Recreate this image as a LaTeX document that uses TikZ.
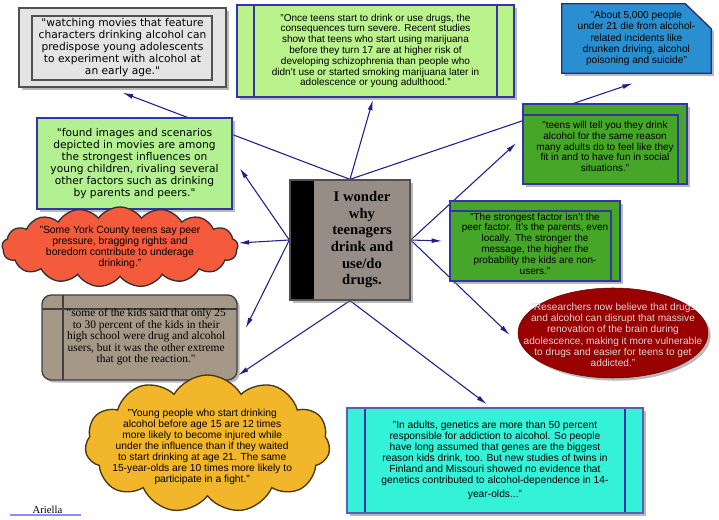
\documentclass[tikz,border=0pt]{standalone}
\usepackage{fontspec}
\setmainfont{Liberation Sans}
\newfontfamily\widesans{DejaVu Sans}
\newfontfamily\timesfont{Liberation Serif}
\usepackage{tikz}
\usetikzlibrary{arrows.meta,shapes.symbols,shapes.geometric,shadows,backgrounds}

\definecolor{navyline}{HTML}{1E1E8E}
\definecolor{palegrey}{HTML}{E4E4E4}
\definecolor{edgegrey}{HTML}{505050}
\definecolor{limegreen}{HTML}{BAF28C}
\definecolor{mintgreen}{HTML}{B2F092}
\definecolor{boxblue}{HTML}{3434A8}
\definecolor{skyblue}{HTML}{2A8FD0}
\definecolor{tomatored}{HTML}{F45A3C}
\definecolor{hubgrey}{HTML}{958D86}
\definecolor{grassgreen}{HTML}{46A628}
\definecolor{winered}{HTML}{990000}
\definecolor{taupe}{HTML}{A69886}
\definecolor{amber}{HTML}{F2B62A}
\definecolor{aqua}{HTML}{34F2D8}
\definecolor{ulblue}{HTML}{8C8CFF}

\begin{document}
\begin{tikzpicture}[x=0.75pt, y=-0.75pt,
    >={Latex[length=8pt,width=3.6pt]},
    conn/.style={->, navyline, line width=0.8pt},
    shade/.style={drop shadow={shadow xshift=2pt, shadow yshift=-2pt, fill=black!50, opacity=0.55}},
    card/.style={rectangle, draw=boxblue, line width=1pt, align=center, inner sep=0pt, shade},
    smallsans/.style={font=\fontsize{7.5}{8.1}\selectfont},
    widetext/.style={font=\widesans\fontsize{8}{9}\selectfont},
    cloudtext/.style={align=center, text=black, font=\fontsize{7.7}{8.3}\selectfont}]

    \useasboundingbox (0,0) rectangle (719,520);

    % centre box
    \node[rectangle, draw=edgegrey, line width=1pt, fill=hubgrey, shade, inner sep=0pt,
          minimum width=90pt, minimum height=90pt,
          font=\timesfont\bfseries\fontsize{11}{12.5}\selectfont,
          path picture={\fill[black] (path picture bounding box.south west) rectangle ([xshift=18pt]path picture bounding box.north west);}]
        (hub) at (350,240) {\hspace{18pt}\begin{tabular}{@{}c@{}}I wonder\\why\\teenagers\\drink and\\use/do\\drugs.\end{tabular}};

    % top row
    \node[card, draw=edgegrey, fill=palegrey, widetext, minimum width=155.25pt, minimum height=59.25pt,
          path picture={\draw[edgegrey, line width=1pt] ([shift={(9.75pt,-6pt)}]path picture bounding box.north west) rectangle ([shift={(-10.5pt,5.25pt)}]path picture bounding box.south east);}]
        (movies) at (122.5,47.5) {"watching movies that feature\\characters drinking alcohol can\\predispose young adolescents\\to experiment with alcohol at\\an early age."};
    \node[card, fill=limegreen, smallsans, minimum width=207.75pt, minimum height=69pt,
          path picture={\draw[boxblue, line width=1pt] ([xshift=12.75pt]path picture bounding box.north west) -- ([xshift=12.75pt]path picture bounding box.south west)
                                                       ([xshift=-12.75pt]path picture bounding box.north east) -- ([xshift=-12.75pt]path picture bounding box.south east);}]
        (severe) at (375.5,51) {"Once teens start to drink or use drugs, the\\consequences turn severe. Recent studies\\show that teens who start using marijuana\\before they turn 17 are at higher risk of\\developing schizophrenia than people who\\didn't use or started smoking marijuana later in\\adolescence or young adulthood."};
    \node[align=center, inner sep=0pt, font=\fontsize{7.6}{8.4}\selectfont, minimum width=111.75pt, minimum height=51.75pt]
        (deaths) at (636.5,38.5) {"About 5,000 people\\under 21 die from alcohol-\\related incidents like\\drunken driving, alcohol\\poisoning and suicide"};

    % left side
    \node[card, fill=mintgreen, widetext, minimum width=146.25pt, minimum height=68.25pt]
        (images) at (134.5,163.5) {"found images and scenarios\\depicted in movies are among\\the strongest influences on\\young children, rivaling several\\other factors such as drinking\\by parents and peers."};
    \node[cloud, cloud puffs=17, cloud puff arc=110, cloud ignores aspect, inner sep=0pt,
          minimum width=177pt, minimum height=60pt, draw=black!80, line width=1pt, fill=tomatored,
          label={[cloudtext, font=\fontsize{7.8}{8.3}\selectfont]center:{"Some York County teens say peer\\pressure, bragging rights and\\boredom contribute to underage\\drinking."}}]
        (peers) at (120,247) {};
    \node[card, draw=black!75, fill=taupe, rounded corners=7pt, minimum width=146.25pt, minimum height=63.75pt,
          font=\timesfont\fontsize{8.6}{8.6}\selectfont,
          path picture={\draw[black!75, line width=1pt] ([xshift=15.75pt]path picture bounding box.north west) -- ([xshift=15.75pt]path picture bounding box.south west)
                                                        ([yshift=-10.5pt]path picture bounding box.north west) -- ([yshift=-10.5pt]path picture bounding box.north east);}]
        (extreme) at (139.5,337.5) {\hspace{10pt}\begin{tabular}{@{}c@{}}"some of the kids said that only 25\\to 30 percent of the kids in their\\high school were drug and alcohol\\users, but it was the other extreme\\that got the reaction."\end{tabular}};
    \node[cloud, cloud puffs=11, cloud puff arc=120, cloud ignores aspect, inner sep=0pt,
          minimum width=183.75pt, minimum height=103.5pt, draw=black!70!amber, line width=1pt, fill=amber,
          label={[cloudtext, xshift=-4pt, yshift=-2pt]center:{"Young people who start drinking\\alcohol before age 15 are 12 times\\more likely to become injured while\\under the influence than if they waited\\to start drinking at age 21. The same\\15-year-olds are 10 times more likely to\\participate in a fight."}}]
        (injury) at (207.5,444) {};

    % right side
    \node[card, fill=grassgreen, smallsans, minimum width=123pt, minimum height=60pt,
          path picture={\draw[boxblue, line width=1pt] ([yshift=-8.25pt]path picture bounding box.north west) -| ([xshift=-6.75pt]path picture bounding box.south east);}]
        (social) at (605,144) {\\[1pt]"teens will tell you they drink\\alcohol for the same reason\\many adults do to feel like they\\fit in and to have fun in social\\situations."};
    \node[card, fill=grassgreen, smallsans, minimum width=127.5pt, minimum height=60pt,
          path picture={\draw[boxblue, line width=1pt] ([yshift=-7.5pt]path picture bounding box.north west) -| ([xshift=-6.75pt]path picture bounding box.south east);}]
        (parents) at (535,241) {\\[1pt]"The strongest factor isn't the\\peer factor. It's the parents, even\\locally. The stronger the\\message, the higher the\\probability the kids are non-\\users."};
    \node[ellipse, inner sep=0pt, minimum width=142.5pt, minimum height=67.5pt, fill=winered, draw=winered!70!black, shade,
          label={[cloudtext, text=black!15, font=\fontsize{7.6}{8.5}\selectfont, yshift=-1.5pt]center:{"Researchers now believe that drugs\\and alcohol can disrupt that massive\\renovation of the brain during\\adolescence, making it more vulnerable\\to drugs and easier for teens to get\\addicted."}}]
        (brain) at (613,333) {};

    % bottom
    \node[card, draw=boxblue!80, fill=aqua, font=\fontsize{7.7}{8.25}\selectfont, minimum width=222pt, minimum height=78.75pt,
          path picture={\draw[boxblue, line width=1pt] ([xshift=13.5pt]path picture bounding box.north west) -- ([xshift=13.5pt]path picture bounding box.south west)
                                                       ([xshift=-13.5pt]path picture bounding box.north east) -- ([xshift=-13.5pt]path picture bounding box.south east);}]
        (genes) at (495,460.5) {"In adults, genetics are more than 50 percent\\responsible for addiction to alcohol. So people\\have long assumed that genes are the biggest\\reason kids drink, too. But new studies of twins in\\Finland and Missouri showed no evidence that\\genetics contributed to alcohol-dependence in 14-\\[2pt]year-olds..."};

    \node[font=\timesfont\fontsize{8}{9}\selectfont, inner sep=0pt] (author) at (47.5,510) {Ariella};
    \draw[ulblue, line width=1.3pt] ([xshift=-16.5pt,yshift=-1.2pt]author.base west) -- ([xshift=13.5pt,yshift=-1.2pt]author.base east);

    \begin{scope}[on background layer]
        % arrows out of the centre box
        \draw[conn] (hub.north) -- ([yshift=-3.75pt]movies.south);
        \draw[conn] (hub.north) -- ([shift={(-1.9pt,-1.5pt)}]severe.south);
        \draw[conn] (hub.north) -- ([shift={(-2.6pt,-7.5pt)}]deaths.south);
        \draw[conn] (hub.west) -- ([shift={(5.25pt,-3.4pt)}]images.east);
        \draw[conn] (hub.west) -- ([yshift=3pt]peers.east);
        \draw[conn] (hub.west) -- ([shift={(6pt,7pt)}]extreme.east);
        \draw[conn] (hub.east) -- ([shift={(-4.5pt,0.75pt)}]social.west);
        \draw[conn] (hub.east) -- ([xshift=-5.25pt]parents.west);
        \draw[conn] (hub.east) -- ([shift={(-6pt,-1.5pt)}]brain.west);
        \draw[conn] (hub.south) -- ([shift={(22.9pt,-0.75pt)}]injury.north);
        \draw[conn] (hub.south) -- ([shift={(-6pt,2.25pt)}]genes.north);

        % cut corner box
        \draw[fill=skyblue, draw=boxblue!80!black, line width=1pt, shade]
            (deaths.south west) -- (deaths.north west) -- ([xshift=-19.5pt]deaths.north east)
            -- ([yshift=-18.75pt]deaths.north east) -- (deaths.south east) -- cycle;
    \end{scope}
\end{tikzpicture}
\end{document}
